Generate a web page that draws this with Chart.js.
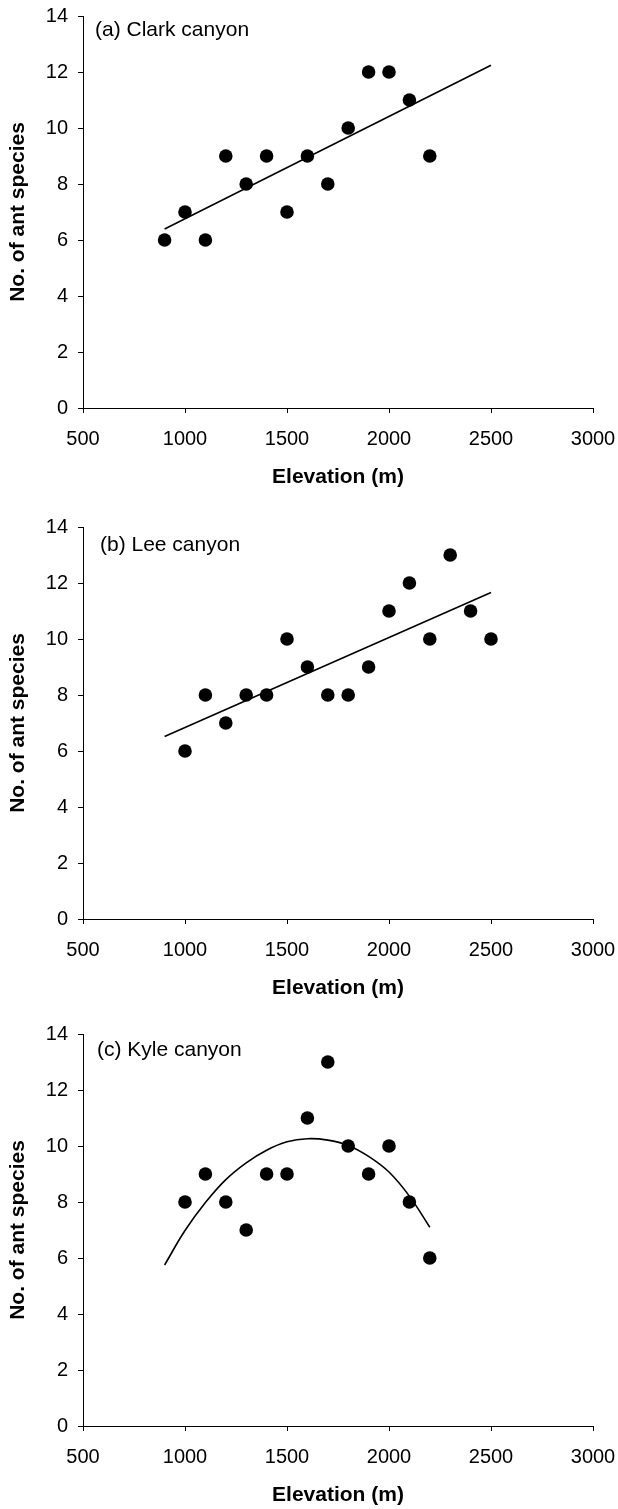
<!DOCTYPE html>
<html>
<head>
<meta charset="utf-8">
<script src="https://cdn.jsdelivr.net/npm/chart.js@4.4.1/dist/chart.umd.min.js"></script>
<style>
  body { margin: 0; background: #fff; }
  #wrap { position: relative; width: 618px; height: 1509px; }
  .panel { position: absolute; left: 0; width: 618px; height: 491px; }
</style>
</head>
<body>
<div id="wrap">
  <div class="panel" style="top:0px"><canvas id="chartA" width="618" height="491"></canvas></div>
  <div class="panel" style="top:511px"><canvas id="chartB" width="618" height="491"></canvas></div>
  <div class="panel" style="top:1018px"><canvas id="chartC" width="618" height="491"></canvas></div>
</div>
<script>
// 各面板的資料 (海拔, 螞蟻種數)
const elevA = [900, 1000, 1100, 1200, 1300, 1400, 1500, 1600, 1700, 1800, 1900, 2000, 2100, 2200];
const speciesA = [6, 7, 6, 9, 8, 9, 7, 9, 8, 10, 12, 12, 11, 9];

const elevB = [1000, 1100, 1200, 1300, 1400, 1500, 1600, 1700, 1800, 1900, 2000, 2100, 2200, 2300, 2400, 2500];
const speciesB = [6, 8, 7, 8, 8, 10, 9, 8, 8, 9, 11, 12, 10, 13, 11, 10];

const elevC = [1000, 1100, 1200, 1300, 1400, 1500, 1600, 1700, 1800, 1900, 2000, 2100, 2200];
const speciesC = [8, 9, 8, 7, 9, 9, 11, 13, 10, 9, 10, 8, 6];

// 趨勢線
const fitXA = [900, 2500];
const fitYA = [6.39, 12.24];
const fitXB = [900, 2500];
const fitYB = [6.52, 11.66];
const fitXC = [900, 1000, 1100, 1200, 1300, 1400, 1500, 1600, 1700, 1800, 1900, 2000, 2100, 2200];
const fitYC = [5.75, 6.98, 7.98, 8.8, 9.4, 9.85, 10.15, 10.26, 10.21, 10.02, 9.63, 9.07, 8.21, 7.10];

const panelLabels = ['(a) Clark canyon', '(b) Lee canyon', '(c) Kyle canyon'];
const xTickMin = 500, xTickMax = 3000, xStep = 500;
const yTickMin = 0, yTickMax = 14, yStep = 2;

const FONT = '"Liberation Sans", Arial, Helvetica, sans-serif';

const toPoints = (xs, ys) => xs.map((x, i) => ({ x: x, y: ys[i] }));

// 面板標籤
const panelLabel = {
    id: 'panelLabel',
    afterDraw(chart, args, opts) {
        const { ctx, chartArea } = chart;
        ctx.save();
        ctx.font = '21px ' + FONT;
        ctx.fillStyle = '#000';
        ctx.textBaseline = 'middle';
        ctx.textAlign = 'left';
        ctx.fillText(opts.text, chartArea.left + opts.dx, chartArea.top + opts.dy);
        ctx.restore();
    }
};

function makeChart(id, xs, ys, fx, fy, label, dx, dy, tension) {
    const ctx = document.getElementById(id).getContext('2d');
    return new Chart(ctx, {
        type: 'scatter',
        data: {
            datasets: [
                {
                    data: toPoints(xs, ys),
                    backgroundColor: '#000',
                    borderColor: '#000',
                    borderWidth: 0,
                    pointRadius: 6.8,
                    pointHoverRadius: 6.8
                },
                {
                    data: toPoints(fx, fy),
                    showLine: true,
                    borderColor: '#000',
                    borderWidth: 1.6,
                    pointRadius: 0,
                    tension: tension,
                    fill: false
                }
            ]
        },
        options: {
            responsive: false,
            animation: false,
            layout: { padding: { top: 16, right: 25, left: 0, bottom: 0 } },
            plugins: {
                legend: { display: false },
                tooltip: { enabled: false },
                panelLabel: { text: label, dx: dx, dy: dy }
            },
            scales: {
                x: {
                    type: 'linear',
                    min: xTickMin,
                    max: xTickMax,
                    afterFit: s => { s.height = 83; s.paddingLeft = 0; s.paddingRight = 0; },
                    ticks: {
                        stepSize: xStep,
                        color: '#000',
                        font: { family: FONT, size: 20 },
                        padding: 14,
                        maxRotation: 0,
                        callback: v => String(v)
                    },
                    grid: { drawOnChartArea: false, drawTicks: true, tickLength: 5, color: '#000' },
                    border: { color: '#000', width: 1 },
                    title: {
                        display: true,
                        text: 'Elevation (m)',
                        color: '#000',
                        font: { family: FONT, size: 21, weight: 'bold' },
                        padding: { top: 0, bottom: 1 }
                    }
                },
                y: {
                    min: yTickMin,
                    max: yTickMax,
                    afterFit: s => { s.width = 83; s.paddingTop = 0; s.paddingBottom = 0; },
                    ticks: {
                        stepSize: yStep,
                        color: '#000',
                        font: { family: FONT, size: 20 },
                        padding: 10,
                        callback: v => String(v)
                    },
                    grid: { drawOnChartArea: false, drawTicks: true, tickLength: 5, color: '#000' },
                    border: { color: '#000', width: 1 },
                    title: {
                        display: true,
                        text: 'No. of ant species',
                        color: '#000',
                        font: { family: FONT, size: 21, weight: 'bold' },
                        padding: { top: 6, bottom: 0 }
                    }
                }
            }
        },
        plugins: [panelLabel]
    });
}

makeChart('chartA', elevA, speciesA, fitXA, fitYA, panelLabels[0], 12, 14, 0);
makeChart('chartB', elevB, speciesB, fitXB, fitYB, panelLabels[1], 17, 18, 0);
makeChart('chartC', elevC, speciesC, fitXC, fitYC, panelLabels[2], 14, 16, 0.4);
</script>
</body>
</html>
